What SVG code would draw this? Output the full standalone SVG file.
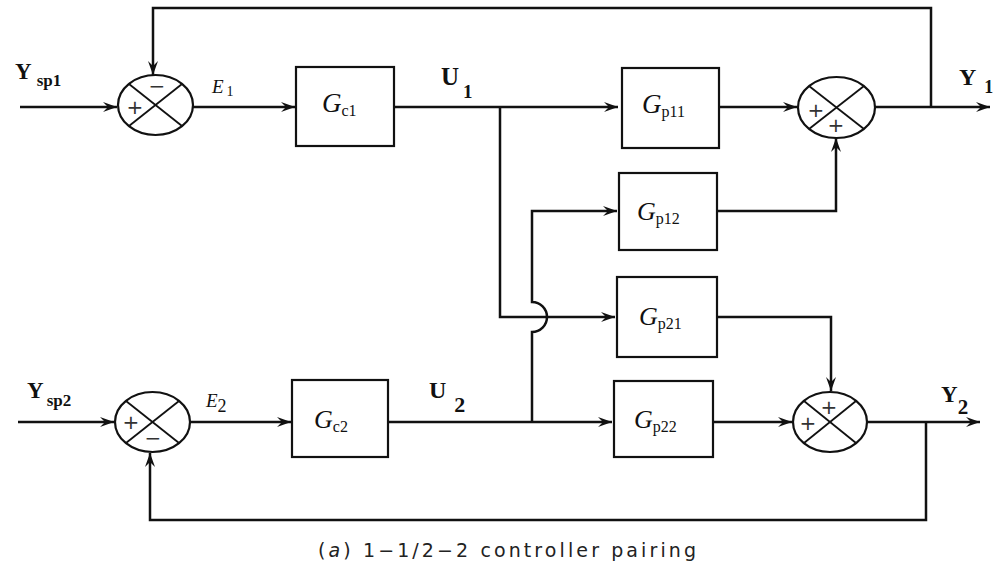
<svg xmlns="http://www.w3.org/2000/svg" width="1002" height="572" viewBox="0 0 1002 572">
<style>
.ln{fill:none;stroke:#111;stroke-width:2.5;}
.bx{fill:#fff;stroke:#111;stroke-width:2.2;}
.sj{fill:#fff;stroke:#111;stroke-width:2.2;}
.x{stroke:#111;stroke-width:1.8;}
.sg{font-family:"DejaVu Sans","Liberation Sans",sans-serif;font-size:20px;fill:#333;text-anchor:middle;}
.bl{font-family:"Liberation Serif","Times New Roman",serif;font-weight:bold;fill:#111;}
.it{font-family:"Liberation Serif","Times New Roman",serif;font-style:italic;fill:#111;}
.sub{font-style:normal;}
.cap{font-family:"DejaVu Sans","Liberation Sans",sans-serif;font-size:19px;fill:#222;}
</style>
<defs>
<marker id="ar" markerUnits="userSpaceOnUse" markerWidth="16" markerHeight="12" refX="14" refY="5" orient="auto">
<path d="M0,0 L14,5 L0,10 L5,5 Z" fill="#111"/>
</marker>
</defs>

<g id="connectors">
<path class="ln" d="M20,107 H117" marker-end="url(#ar)"/>
<path class="ln" d="M193,107 H295" marker-end="url(#ar)"/>
<path class="ln" d="M394,107 H618" marker-end="url(#ar)"/>
<path class="ln" d="M719,107 H797" marker-end="url(#ar)"/>
<path class="ln" d="M875,107 H990" marker-end="url(#ar)"/>
<path class="ln" d="M931,107 V8 H153 V75" marker-end="url(#ar)"/>
<path class="ln" d="M500,107 V317 H615" marker-end="url(#ar)"/>
<path class="ln" d="M532,422 V332 A15,15 0 0 0 532,302 V211 H617" marker-end="url(#ar)"/>
<path class="ln" d="M717,211 H836 V138" marker-end="url(#ar)"/>
<path class="ln" d="M717,317 H831 V391" marker-end="url(#ar)"/>
<path class="ln" d="M18,422 H114" marker-end="url(#ar)"/>
<path class="ln" d="M190,422 H291" marker-end="url(#ar)"/>
<path class="ln" d="M388,422 H612" marker-end="url(#ar)"/>
<path class="ln" d="M713,422 H792" marker-end="url(#ar)"/>
<path class="ln" d="M867,422 H980" marker-end="url(#ar)"/>
<path class="ln" d="M926,422 V520 H150 V453" marker-end="url(#ar)"/>
</g>

<g id="sum1">
<ellipse class="sj" cx="155.5" cy="105" rx="37.5" ry="30"/>
<line class="x" x1="129" y1="84" x2="182" y2="126"/>
<line class="x" x1="129" y1="126" x2="182" y2="84"/>
<text class="sg" x="135" y="114">+</text>
<text class="sg" x="157" y="93">−</text>
</g>

<g id="sum2">
<ellipse class="sj" cx="836.5" cy="107.5" rx="38.5" ry="30.5"/>
<line class="x" x1="809" y1="86" x2="864" y2="129"/>
<line class="x" x1="809" y1="129" x2="864" y2="86"/>
<text class="sg" x="816" y="117">+</text>
<text class="sg" x="836" y="132">+</text>
</g>

<g id="sum3">
<ellipse class="sj" cx="152.5" cy="422" rx="37.5" ry="30"/>
<line class="x" x1="126" y1="401" x2="179" y2="443"/>
<line class="x" x1="126" y1="443" x2="179" y2="401"/>
<text class="sg" x="131" y="429">+</text>
<text class="sg" x="153" y="445">−</text>
</g>

<g id="sum4">
<ellipse class="sj" cx="830" cy="422" rx="37" ry="30"/>
<line class="x" x1="804" y1="401" x2="856" y2="443"/>
<line class="x" x1="804" y1="443" x2="856" y2="401"/>
<text class="sg" x="829" y="414">+</text>
<text class="sg" x="808" y="430">+</text>
</g>

<g id="Gc1">
<rect class="bx" x="296" y="67" width="98" height="79"/>
<text class="it" x="322" y="112" font-size="27">G<tspan class="sub" font-size="16" dy="4">c1</tspan></text>
</g>
<g id="Gp11">
<rect class="bx" x="622" y="68" width="97" height="80"/>
<text class="it" x="642" y="113" font-size="27">G<tspan class="sub" font-size="16" dy="4">p11</tspan></text>
</g>
<g id="Gp12">
<rect class="bx" x="619" y="173" width="98" height="77"/>
<text class="it" x="637" y="220" font-size="26">G<tspan class="sub" font-size="16" dy="4">p12</tspan></text>
</g>
<g id="Gp21">
<rect class="bx" x="617" y="277" width="100" height="80"/>
<text class="it" x="639" y="325" font-size="26">G<tspan class="sub" font-size="16" dy="4">p21</tspan></text>
</g>
<g id="Gc2">
<rect class="bx" x="292" y="380" width="96" height="77"/>
<text class="it" x="314" y="428" font-size="26">G<tspan class="sub" font-size="16" dy="4">c2</tspan></text>
</g>
<g id="Gp22">
<rect class="bx" x="614" y="381" width="99" height="76"/>
<text class="it" x="634" y="428" font-size="26">G<tspan class="sub" font-size="16" dy="4">p22</tspan></text>
</g>

<g id="labels">
<text class="bl" x="15" y="79" font-size="23">Y<tspan font-size="17" dx="5" dy="7">sp1</tspan></text>
<text class="it" x="212" y="93" font-size="19">E<tspan class="sub" font-size="14" dx="3" dy="3">1</tspan></text>
<text class="bl" x="441" y="85" font-size="25">U<tspan font-size="19" dx="4" dy="13">1</tspan></text>
<text class="bl" x="959" y="85" font-size="24">Y<tspan font-size="18" dx="8" dy="8">1</tspan></text>
<text class="bl" x="27" y="398" font-size="23">Y<tspan font-size="17" dx="3" dy="8">sp2</tspan></text>
<text class="it" x="206" y="407" font-size="19">E<tspan class="sub" font-size="18" dy="5">2</tspan></text>
<text class="bl" x="429" y="398" font-size="24">U<tspan font-size="22" dx="8" dy="14">2</tspan></text>
<text class="bl" x="941" y="402" font-size="23">Y<tspan font-size="21" dy="12">2</tspan></text>
<text class="cap" x="318" y="557" textLength="378" lengthAdjust="spacing">(<tspan font-style="italic">a</tspan>) 1−1/2−2 controller pairing</text>
</g>
</svg>
